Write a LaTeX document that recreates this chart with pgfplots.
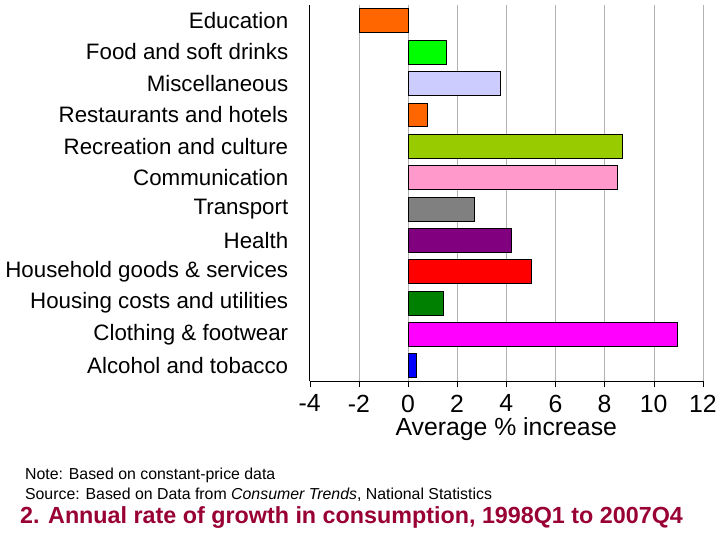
\documentclass[border=0pt]{standalone}
\usepackage{pgfplots}
\pgfplotsset{compat=1.18}
\usepackage{fontspec}
\setmainfont{Liberation Sans}
\definecolor{c1}{HTML}{FF6600}
\definecolor{c2}{HTML}{00FF00}
\definecolor{c3}{HTML}{CCCCFF}
\definecolor{c5}{HTML}{99CC00}
\definecolor{c6}{HTML}{FF99CC}
\definecolor{c7}{HTML}{808080}
\definecolor{c8}{HTML}{800080}
\definecolor{c9}{HTML}{FF0000}
\definecolor{c10}{HTML}{008000}
\definecolor{c11}{HTML}{FF00FF}
\definecolor{c12}{HTML}{0000FF}
\definecolor{tc}{HTML}{990033}
\begin{document}
\begin{tikzpicture}[x=1bp,y=1bp]
\path (0,0) rectangle (720,540);
\begin{axis}[at={(311bp,157bp)}, anchor=south west, scale only axis,
 width=395bp, height=378bp,
 xbar, bar width=24bp, bar shift=0pt,
 xmin=-4, xmax=12, ymin=-0.5, ymax=11.5,
 xtick={-4,-2,...,12}, xmajorgrids, grid style={gray!60},
 axis x line*=bottom, axis y line*=left,
 x axis line style={-,thick}, y axis line style={-,thick},
 xtick align=outside, tick style={black}, major tick length=6bp,
 ytick={0,...,11}, major y tick style={draw=none},
 yticklabels={Alcohol and tobacco,Clothing \& footwear,Housing costs and utilities,Household goods \& services,Health,Transport,Communication,Recreation and culture,Restaurants and hotels,Miscellaneous,Food and soft drinks,Education},
 yticklabel style={font=\fontsize{22.5}{26}\selectfont, xshift=-12bp},
 xticklabel style={font=\fontsize{25}{28}\selectfont, yshift=-4bp},
 /pgf/number format/assume math mode=true,
 xlabel={Average \% increase}, xlabel style={font=\fontsize{25}{28}\selectfont, yshift=2bp},
 every axis plot/.append style={draw=black},
]
\addplot[fill=c12] coordinates {(0.35,0)};
\addplot[fill=c11] coordinates {(10.95,1)};
\addplot[fill=c10] coordinates {(1.45,2)};
\addplot[fill=c9] coordinates {(5.0,3)};
\addplot[fill=c8] coordinates {(4.2,4)};
\addplot[fill=c7] coordinates {(2.7,5)};
\addplot[fill=c6] coordinates {(8.5,6)};
\addplot[fill=c5] coordinates {(8.7,7)};
\addplot[fill=c1] coordinates {(0.8,8)};
\addplot[fill=c3] coordinates {(3.75,9)};
\addplot[fill=c2] coordinates {(1.55,10)};
\addplot[fill=c1] coordinates {(-2.0,11)};
\end{axis}
\node[anchor=west, font=\fontsize{16}{18}\selectfont, inner sep=0] at (25,62) {Note: Based on constant-price data};
\node[anchor=west, font=\fontsize{16}{18}\selectfont, inner sep=0] at (25,43) {Source: Based on Data from \textit{Consumer Trends}, National Statistics};
\node[anchor=west, font=\bfseries\fontsize{23.5}{26}\selectfont, text=tc, inner sep=0] at (20,20) {2. Annual rate of growth in consumption, 1998Q1 to 2007Q4};
\end{tikzpicture}
\end{document}
